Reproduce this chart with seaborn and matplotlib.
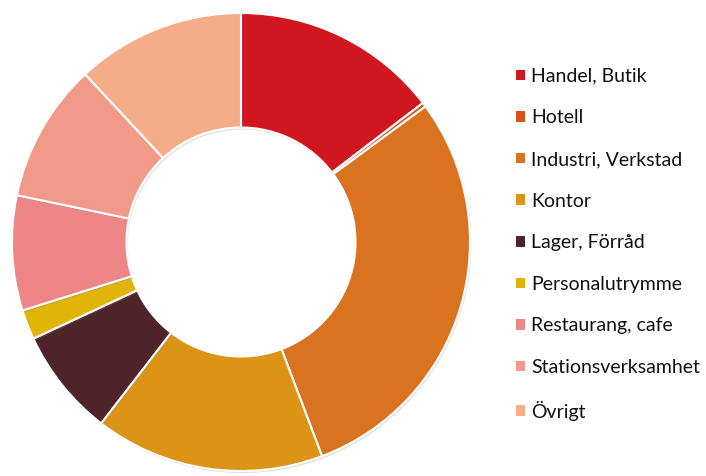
import matplotlib
matplotlib.use('Agg')
import matplotlib.pyplot as plt
import matplotlib.patheffects as pe
import seaborn as sns

categories = ['Handel, Butik', 'Hotell', 'Industri, Verkstad', 'Kontor', 'Lager, Förråd',
              'Personalutrymme', 'Restaurang, cafe', 'Stationsverksamhet', 'Övrigt']
values = [14.6, 0.3, 29.3, 16.2, 7.6, 2.1, 8.1, 9.8, 11.9]
colors = ['#D0171F', '#D9501E', '#D9731F', '#DC9416', '#4F2428',
          '#E1B40A', '#EE8586', '#F29A89', '#F5AC89']

sns.set_theme(style='white')
plt.rcParams['font.family'] = ['Lato', 'DejaVu Sans']

fig = plt.figure(figsize=(7.06, 4.76), dpi=100)
W, H = 706, 476
cx, cy, r = 241, 242, 229
ax = fig.add_axes([(cx - r) / W, (H - cy - r) / H, 2 * r / W, 2 * r / H])

wedges, _ = ax.pie(values, colors=sns.color_palette(colors), startangle=90, counterclock=False,
                   wedgeprops=dict(width=0.5, edgecolor='white', linewidth=1.5))
for w in wedges:
    w.set_path_effects([pe.SimplePatchShadow(offset=(1, -1.5), shadow_rgbFace='#888888', alpha=0.25),
                        pe.Normal()])
ax.set_xlim(-1, 1)
ax.set_ylim(-1, 1)
ax.set_aspect('equal')
ax.axis('off')

leg = fig.legend(wedges, categories, loc='upper left', bbox_to_anchor=(508 / W, 1 - 60 / H),
                 frameon=False, fontsize=14, handlelength=0.46, handleheight=0.46,
                 handletextpad=0.32, labelspacing=1.265, borderaxespad=0)
for h in leg.legend_handles:
    h.set_edgecolor('none')
    h.set_path_effects([])
for t in leg.get_texts():
    t.set_color('#111111')

fig.savefig('out.png', dpi=100)
